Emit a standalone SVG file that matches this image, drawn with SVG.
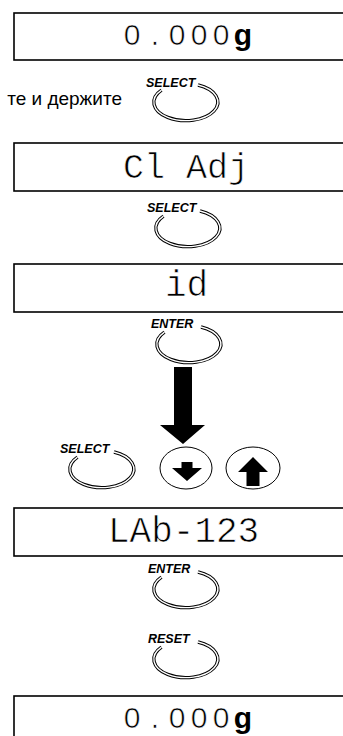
<svg xmlns="http://www.w3.org/2000/svg" width="343" height="736" viewBox="0 0 343 736">
<style>
.box{fill:#fff;stroke:#000;stroke-width:1.6}
.mono{font-family:"Liberation Mono","DejaVu Sans Mono",monospace;font-size:36px;fill:#000;stroke:#fff;stroke-width:0.7}
.dig{font-family:"Liberation Sans",Arial,sans-serif;font-size:30px;fill:#000;text-anchor:middle;stroke:#fff;stroke-width:0.6}
.unit{font-family:"Liberation Sans",Arial,sans-serif;font-size:30px;font-weight:bold;fill:#000;text-anchor:middle}
.lbl{font-family:"Liberation Sans",Arial,sans-serif;font-size:12.5px;font-weight:bold;font-style:italic;fill:#000}
.note{font-family:"Liberation Sans",Arial,sans-serif;font-size:19px;fill:#000;text-anchor:end}
.ringo{fill:none;stroke:#000;stroke-width:3.4}
.ringi{fill:none;stroke:#fff;stroke-width:1.4}
.key{fill:#fff;stroke:#000;stroke-width:1}
</style>
<defs>
<g id="ring">
<path class="ringo" d="M12,-17 A32,18.5 0 1 1 -24.5,-11.9"/>
<path class="ringi" d="M12,-17 A32,18.5 0 1 1 -24.5,-11.9"/>
</g>
</defs>

<g id="display1">
<rect class="box" x="14" y="13" width="340" height="47"/>
<text class="dig" y="45"><tspan x="132">0</tspan><tspan x="155">.</tspan><tspan x="177">0</tspan><tspan x="199">0</tspan><tspan x="221">0</tspan></text>
<text class="unit" x="243" y="45">g</text>
</g>

<g id="note">
<text class="note" x="122" y="105">те и держите</text>
</g>

<g id="btn-select1">
<use href="#ring" x="186" y="102"/>
<text class="lbl" x="146" y="87">SELECT</text>
</g>

<g id="display2">
<rect class="box" x="14" y="143" width="340" height="48"/>
<text class="mono" x="186" y="178" text-anchor="middle" style="font-size:35px">Cl Adj</text>
</g>

<g id="btn-select2">
<use href="#ring" x="188" y="228"/>
<text class="lbl" x="147" y="212">SELECT</text>
</g>

<g id="display3">
<rect class="box" x="14" y="264" width="340" height="48"/>
<text class="mono" x="165" y="296">id</text>
</g>

<g id="btn-enter1">
<use href="#ring" x="189" y="344"/>
<text class="lbl" x="151" y="328">ENTER</text>
</g>

<g id="connectors">
<polygon fill="#000" points="174,367 192,367 192,425 205,425 183,444 160,425 174,425"/>
</g>

<g id="btn-select3">
<use href="#ring" x="102" y="469"/>
<text class="lbl" x="60" y="453">SELECT</text>
</g>

<g id="btn-down">
<ellipse class="key" cx="186" cy="468" rx="26" ry="21"/>
<polygon fill="#000" points="181.5,462 192.5,462 192.5,468 202,468 187,481 172,468 181.5,468"/>
</g>

<g id="btn-up">
<ellipse class="key" cx="253" cy="468" rx="27" ry="21"/>
<polygon fill="#000" points="253,457 268,472 259.5,472 259.5,486 246.5,486 246.5,472 238,472"/>
</g>

<g id="display4">
<rect class="box" x="14" y="508" width="340" height="48"/>
<text class="mono" x="108" y="542">LAb-123</text>
</g>

<g id="btn-enter2">
<use href="#ring" x="186" y="589"/>
<text class="lbl" x="148" y="573">ENTER</text>
</g>

<g id="btn-reset">
<use href="#ring" x="186" y="659"/>
<text class="lbl" x="148" y="643">RESET</text>
</g>

<g id="display5">
<rect class="box" x="14" y="696" width="340" height="60"/>
<text class="dig" y="728"><tspan x="132">0</tspan><tspan x="155">.</tspan><tspan x="177">0</tspan><tspan x="199">0</tspan><tspan x="221">0</tspan></text>
<text class="unit" x="243" y="728">g</text>
</g>
</svg>
